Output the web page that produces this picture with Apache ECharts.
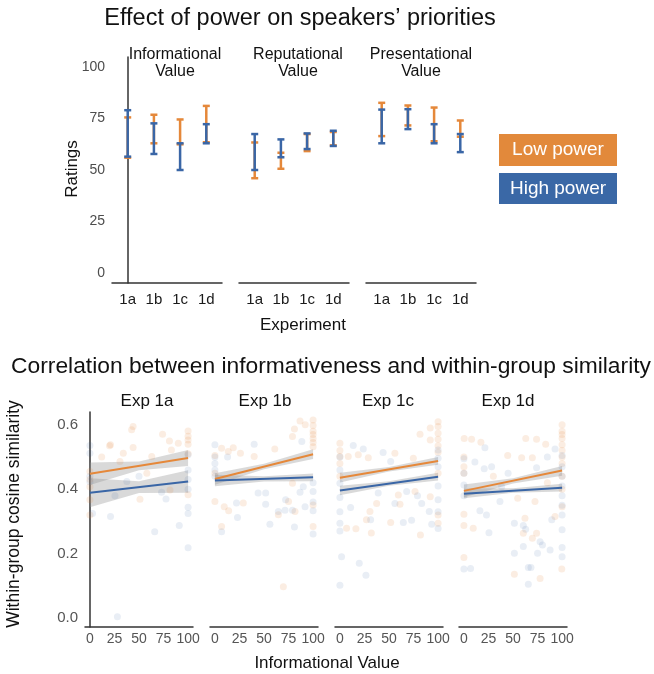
<!DOCTYPE html>
<html>
<head>
<meta charset="utf-8">
<script src="https://cdn.jsdelivr.net/npm/echarts@6/dist/echarts.min.js"></script>
<style>html,body{margin:0;padding:0;background:#fff}#c{width:654px;height:674px}</style>
</head>
<body>
<div id="c"></div>
<script>
// ---------- Top panel data ----------
const categories = ['1a', '1b', '1c', '1d'];
const measures = ['Informational\nValue', 'Reputational\nValue', 'Presentational\nValue'];
const ratingTicks = [0, 25, 50, 75, 100];
// error bar limits [low, high] per experiment
const infoLowLo  = [56.0, 63.0, 62.5, 63.5];
const infoLowHi  = [75.6, 76.9, 74.6, 81.2];
const infoHighLo = [56.5, 57.8, 50.0, 63.0];
const infoHighHi = [79.1, 72.7, 63.0, 72.3];
const repLowLo   = [46.0, 50.6, 59.2, 62.0];
const repLowHi   = [63.4, 58.4, 67.5, 68.5];
const repHighLo  = [50.0, 56.2, 60.2, 61.7];
const repHighHi  = [67.5, 64.9, 67.8, 69.1];
const presLowLo  = [66.5, 71.7, 64.0, 66.2];
const presLowHi  = [82.7, 81.4, 80.4, 74.1];
const presHighLo = [63.0, 69.9, 63.0, 58.7];
const presHighHi = [79.4, 79.6, 72.3, 67.5];

// ---------- Bottom panel data ----------
const experiments = ['Exp 1a', 'Exp 1b', 'Exp 1c', 'Exp 1d'];
const infoTicks = [0, 25, 50, 75, 100];
const simTicks = [0, 0.2, 0.4, 0.6];
const lowPts1a = [[44,0.595],[42.5,0.585],[21,0.538],[34,0.512],[44,0.53],[74,0.571],[81,0.55],[90,0.543],[83,0.522],[100,0.581],[100,0.553],[100,0.54],[100,0.565],[30.6,0.486],[0,0.455],[0,0.408],[0,0.367],[0,0.32],[51,0.369],[100,0.383],[63,0.502],[58,0.45],[81.6,0.398],[20,0.535],[100,0.51],[0,0.43],[12,0.5]];
const highPts1a = [[0,0.536],[0,0.512],[0,0.423],[2.7,0.325],[21,0.315],[25.5,0.38],[66,0.268],[91,0.287],[100,0.344],[100,0.325],[100,0.218],[28,0.004],[73,0.391],[77.5,0.37],[100,0.46],[100,0.507],[37.6,0.424],[0,0.44],[100,0.43],[100,0.4],[50,0.44]];
const lowPts1b = [[86.7,0.612],[100,0.615],[100,0.598],[81,0.587],[100,0.58],[79,0.564],[100,0.558],[100,0.532],[6.8,0.527],[13.6,0.517],[18.7,0.529],[26,0.512],[0,0.505],[40,0.502],[61,0.525],[0,0.362],[9.5,0.346],[14,0.333],[28.9,0.357],[6.8,0.284],[69.7,0.097],[81.6,0.331],[100,0.351],[100,0.284],[75,0.362],[79,0.419],[64.6,0.321],[100,0.57],[100,0.545],[92,0.6],[0,0.45]];
const highPts1b = [[0,0.538],[0,0.48],[0,0.46],[12.9,0.5],[40,0.54],[44,0.388],[51.7,0.388],[51.7,0.353],[22,0.357],[23,0.312],[6.8,0.268],[56,0.291],[64.6,0.331],[72,0.367],[71.4,0.335],[79,0.335],[86.7,0.391],[91.8,0.346],[100,0.333],[100,0.393],[100,0.261],[81,0.283],[90,0.408],[88.5,0.548],[100,0.42],[100,0.36],[0,0.44],[0,0.5]];
const lowPts1c = [[100,0.595],[100,0.574],[92,0.59],[81.6,0.571],[92,0.553],[0,0.543],[0,0.502],[8.5,0.502],[18.7,0.507],[28.9,0.498],[56,0.512],[74.8,0.496],[0,0.44],[30.6,0.331],[27,0.305],[32,0.264],[6.8,0.279],[16.3,0.277],[51.7,0.297],[61.2,0.353],[59.5,0.382],[82,0.258],[100,0.32],[100,0.294],[37.4,0.356],[76.5,0.393],[92,0.377],[100,0.61],[100,0.555],[100,0.535],[100,0.515],[0,0.52],[0,0.48],[100,0.45]];
const highPts1c = [[0,0.419],[0,0.374],[0,0.294],[0,0.27],[1.7,0.19],[19.7,0.17],[26.5,0.133],[0,0.102],[13.6,0.536],[23.8,0.525],[44,0.514],[51.7,0.486],[39,0.388],[56,0.356],[64.6,0.297],[73,0.304],[79,0.38],[83.3,0.356],[91,0.331],[93.5,0.291],[100,0.367],[100,0.278],[31.3,0.305],[10.9,0.343],[68,0.393],[100,0.522],[100,0.496],[0,0.46],[0,0.5],[0,0.33],[100,0.47],[100,0.41],[100,0.33]];
const lowPts1d = [[0.3,0.558],[7.8,0.555],[17.3,0.546],[63,0.558],[74,0.555],[83.3,0.54],[100,0.58],[100,0.558],[100,0.538],[44.6,0.505],[58.8,0.498],[69.7,0.498],[0,0.47],[0,0.322],[0,0.287],[9.5,0.279],[0,0.188],[51.4,0.136],[77.6,0.123],[99.7,0.152],[62.2,0.31],[69.7,0.248],[74,0.263],[60.5,0.263],[92.8,0.315],[54.8,0.372],[72.4,0.362],[100,0.346],[100,0.6],[100,0.57],[100,0.52],[100,0.5],[100,0.48],[100,0.44],[100,0.4],[0,0.5],[0,0.45],[30,0.44],[85,0.42]];
const highPts1d = [[0,0.495],[0,0.413],[21.4,0.529],[11.2,0.485],[20.7,0.464],[28.2,0.47],[36.7,0.362],[16.3,0.333],[23,0.32],[25.5,0.265],[0,0.152],[6.8,0.154],[51.4,0.294],[60.5,0.287],[62.9,0.276],[51.4,0.201],[60.5,0.222],[65.6,0.157],[68.3,0.157],[65.6,0.105],[77.6,0.237],[80,0.227],[75,0.201],[87.8,0.211],[89.5,0.305],[100,0.274],[100,0.219],[100,0.19],[92.8,0.525],[100,0.505],[74,0.467],[38.4,0.408],[100,0.47],[100,0.44],[100,0.41],[100,0.38],[100,0.35],[100,0.32],[0,0.45],[0,0.38],[45,0.45],[85,0.5]];
// fitted lines: value at x=0 and x=100
const fitX = [0, 100];
const lowFit1a = [0.448, 0.497], highFit1a = [0.389, 0.424];
const lowFit1b = [0.432, 0.509], highFit1b = [0.427, 0.437];
const lowFit1c = [0.436, 0.488], highFit1c = [0.396, 0.439];
const lowFit1d = [0.395, 0.458], highFit1d = [0.386, 0.405];
// confidence bands at x = 0, 50, 100
const bandX = [0, 50, 100];
const lowBandLo1a = [0.413, 0.459, 0.472], lowBandHi1a = [0.483, 0.486, 0.522];
const highBandLo1a = [0.344, 0.388, 0.389], highBandHi1a = [0.434, 0.425, 0.459];
const lowBandLo1b = [0.414, 0.462, 0.494], lowBandHi1b = [0.450, 0.479, 0.524];
const highBandLo1b = [0.409, 0.424, 0.425], highBandHi1b = [0.445, 0.440, 0.449];
const lowBandLo1c = [0.421, 0.455, 0.476], lowBandHi1c = [0.451, 0.469, 0.500];
const highBandLo1c = [0.381, 0.411, 0.427], highBandHi1c = [0.411, 0.425, 0.451];
const lowBandLo1d = [0.375, 0.418, 0.442], lowBandHi1d = [0.415, 0.434, 0.472];
const highBandLo1d = [0.372, 0.389, 0.393], highBandHi1d = [0.402, 0.403, 0.417];

// ---------- build ----------
const FONT = 'Liberation Sans';
const ORANGE = '#E5883A';
const BLUE = '#3A66A6';
const AXIS = '#333';

const topData = [
  [infoLowLo, infoLowHi, infoHighLo, infoHighHi],
  [repLowLo, repLowHi, repHighLo, repHighHi],
  [presLowLo, presLowHi, presHighLo, presHighHi]
];
const botData = [
  [lowPts1a, highPts1a, lowFit1a, highFit1a, lowBandLo1a, lowBandHi1a, highBandLo1a, highBandHi1a],
  [lowPts1b, highPts1b, lowFit1b, highFit1b, lowBandLo1b, lowBandHi1b, highBandLo1b, highBandHi1b],
  [lowPts1c, highPts1c, lowFit1c, highFit1c, lowBandLo1c, lowBandHi1c, highBandLo1c, highBandHi1c],
  [lowPts1d, highPts1d, lowFit1d, highFit1d, lowBandLo1d, lowBandHi1d, highBandLo1d, highBandHi1d]
];

const topLefts = [112, 239, 366];
const botLefts = [85, 210, 335, 459];

const grid = [], xAxis = [], yAxis = [], series = [];

function errRender(params, api) {
  const x = api.value(0), lo = api.value(1), hi = api.value(2);
  const t = api.coord([x, hi]), b = api.coord([x, lo]);
  const w = 3.5;
  const st = { stroke: api.visual('color'), lineWidth: 2.5 };
  return { type: 'group', children: [
    { type: 'line', shape: { x1: t[0], y1: t[1], x2: b[0], y2: b[1] }, style: st },
    { type: 'line', shape: { x1: t[0] - w, y1: t[1], x2: t[0] + w, y2: t[1] }, style: st },
    { type: 'line', shape: { x1: b[0] - w, y1: b[1], x2: b[0] + w, y2: b[1] }, style: st }
  ]};
}
function bandRender(xs, lo, hi) {
  return function (params, api) {
    if (params.dataIndex !== 0) return null;
    const pts = [];
    for (let i = 0; i < xs.length; i++) pts.push(api.coord([xs[i], hi[i]]));
    for (let i = xs.length - 1; i >= 0; i--) pts.push(api.coord([xs[i], lo[i]]));
    return { type: 'polygon', shape: { points: pts }, style: { fill: 'rgba(150,150,150,0.36)' } };
  };
}

// top grids
topData.forEach((d, i) => {
  grid.push({ left: topLefts[i], top: 57, width: 110, height: 226, containLabel: false, outerBoundsMode: 'none' });
  xAxis.push({
    type: 'value', gridIndex: i, min: -0.6, max: 3.6,
    axisLine: { show: true, onZero: false, lineStyle: { color: AXIS, width: 1.5 } },
    axisTick: { show: false }, splitLine: { show: false },
    axisLabel: { customValues: [0, 1, 2, 3], formatter: v => categories[Math.round(v)], color: '#1a1a1a', fontSize: 15, fontFamily: FONT, margin: 9 }
  });
  yAxis.push({
    type: 'value', gridIndex: i, min: -5, max: 105, show: i === 0,
    axisLine: { show: true, lineStyle: { color: AXIS, width: 1.5 } },
    axisTick: { show: false }, splitLine: { show: false },
    axisLabel: { customValues: ratingTicks, color: '#4d4d4d', fontSize: 14, fontFamily: FONT, margin: 7 }
  });
  series.push({
    name: 'Low power', type: 'custom', xAxisIndex: i, yAxisIndex: i,
    itemStyle: { color: ORANGE }, renderItem: errRender,
    data: d[0].map((lo, k) => [k, lo, d[1][k]])
  });
  series.push({
    name: 'High power', type: 'custom', xAxisIndex: i, yAxisIndex: i,
    itemStyle: { color: BLUE }, renderItem: errRender,
    data: d[2].map((lo, k) => [k, lo, d[3][k]])
  });
});

// bottom grids
botData.forEach((d, j) => {
  const gi = 3 + j;
  grid.push({ left: botLefts[j], top: 412, width: 108, height: 215, containLabel: false, outerBoundsMode: 'none' });
  xAxis.push({
    type: 'value', gridIndex: gi, min: -5, max: 105,
    axisLine: { show: true, onZero: false, lineStyle: { color: AXIS, width: 1.5 } },
    axisTick: { show: false }, splitLine: { show: false },
    axisLabel: { customValues: infoTicks, color: '#555', fontSize: 14, fontFamily: FONT, margin: 5 }
  });
  yAxis.push({
    type: 'value', gridIndex: gi, min: -0.028, max: 0.64, show: j === 0,
    axisLine: { show: true, lineStyle: { color: AXIS, width: 1.5 } },
    axisTick: { show: false }, splitLine: { show: false },
    axisLabel: { customValues: simTicks, formatter: v => v.toFixed(1), color: '#555', fontSize: 15, fontFamily: FONT, margin: 7 }
  });
  series.push({
    name: 'Low power', type: 'scatter', xAxisIndex: gi, yAxisIndex: gi, symbolSize: 7,
    itemStyle: { color: ORANGE, opacity: 0.15 }, data: d[0]
  });
  series.push({
    name: 'High power', type: 'scatter', xAxisIndex: gi, yAxisIndex: gi, symbolSize: 7,
    itemStyle: { color: BLUE, opacity: 0.11 }, data: d[1]
  });
  series.push({
    name: 'Low power', type: 'custom', xAxisIndex: gi, yAxisIndex: gi, clip: false,
    renderItem: bandRender(bandX, d[4], d[5]), data: bandX.map((x, k) => [x, d[4][k], d[5][k]])
  });
  series.push({
    name: 'Low power', type: 'line', xAxisIndex: gi, yAxisIndex: gi, showSymbol: false,
    lineStyle: { color: ORANGE, width: 2 }, itemStyle: { color: ORANGE },
    data: fitX.map((x, k) => [x, d[2][k]])
  });
  series.push({
    name: 'High power', type: 'custom', xAxisIndex: gi, yAxisIndex: gi, clip: false,
    renderItem: bandRender(bandX, d[6], d[7]), data: bandX.map((x, k) => [x, d[6][k], d[7][k]])
  });
  series.push({
    name: 'High power', type: 'line', xAxisIndex: gi, yAxisIndex: gi, showSymbol: false,
    lineStyle: { color: BLUE, width: 2 }, itemStyle: { color: BLUE },
    data: fitX.map((x, k) => [x, d[3][k]])
  });
});

function txt(text, x, y, size, opts) {
  return Object.assign({
    type: 'text', x: x, y: y,
    style: { text: text, font: size + 'px "' + FONT + '"', fill: '#111', align: 'center', verticalAlign: 'middle', lineHeight: 17 }
  }, opts || {});
}
const stripCenters = [175, 298, 421];
const expCenters = [147, 265, 388, 508];
const graphic = [
  txt('Effect of power on speakers’ priorities', 300, 19, 23.5),
  txt('Correlation between informativeness and within-group similarity', 331, 367, 22.8),
  txt('Experiment', 303, 325, 17),
  txt('Informational Value', 327, 663, 17),
  txt('Ratings', 72, 169, 17, { rotation: Math.PI / 2 }),
  txt('Within-group cosine similarity', 14, 514, 17.5, { rotation: Math.PI / 2 }),
  { type: 'rect', shape: { x: 499, y: 134, width: 118, height: 32 }, style: { fill: '#E2893B' } },
  txt('Low power', 558, 150, 19, { style: { text: 'Low power', font: '19px "' + FONT + '"', fill: '#fff', align: 'center', verticalAlign: 'middle' } }),
  { type: 'rect', shape: { x: 499, y: 173, width: 118, height: 31 }, style: { fill: '#3A68A6' } },
  txt('High power', 558, 189, 19, { style: { text: 'High power', font: '19px "' + FONT + '"', fill: '#fff', align: 'center', verticalAlign: 'middle' } })
];
measures.forEach((m, i) => graphic.push(txt(m, stripCenters[i], 63, 16)));
experiments.forEach((e, j) => graphic.push(txt(e, expCenters[j], 401, 17)));

const chart = echarts.init(document.getElementById('c'), null, { renderer: 'canvas' });
chart.setOption({
  backgroundColor: '#fff',
  animation: false,
  textStyle: { fontFamily: FONT },
  grid, xAxis, yAxis, series, graphic
});
</script>
</body>
</html>
